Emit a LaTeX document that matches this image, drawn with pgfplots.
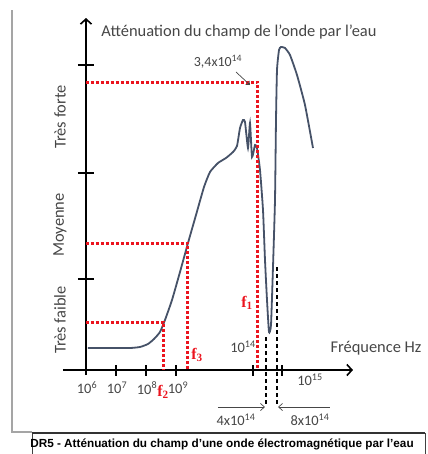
\documentclass[border=0pt]{standalone}
\usepackage{pgfplots}
\pgfplotsset{compat=1.18}
\usepackage{fontspec}
\setmainfont{Carlito}
\newfontfamily\capfont{Liberation Sans}
\newfontfamily\ffont{Liberation Serif}
\usetikzlibrary{arrows.meta}
\definecolor{curve}{RGB}{70,82,104}
\definecolor{myred}{RGB}{235,20,30}
\definecolor{txt}{RGB}{70,70,70}
\definecolor{framec}{RGB}{165,165,165}
\tikzset{lab/.style={txt, font=\fontsize{14.5}{14.5}\selectfont}}
\begin{document}
\begin{tikzpicture}
\path[use as bounding box] (-86bp,-84bp) rectangle (342bp,370bp);
\begin{axis}[x=1bp,y=1bp, anchor=origin, at={(0,0)},
  axis lines=middle, xmin=-23, xmax=267, ymin=-5, ymax=352, clip=false,
  xtick={0,30,60,90,167,196}, ytick={91,197,305},
  xticklabels={}, yticklabels={},
  tick align=center, major tick length=13bp,
  tick style={line width=1.6bp, black},
  every x tick/.append style={/pgfplots/major tick length=11bp},
  every y tick/.append style={/pgfplots/major tick length=16bp},
  axis line style={line width=1.6bp},
  every inner x axis line/.append style={-{Straight Barb[length=5bp,width=11bp,line width=1.6bp]}},
  every inner y axis line/.append style={-{Straight Barb[length=5bp,width=11bp,line width=1.6bp]}}]
% curve
\addplot[curve, line width=1.8bp, smooth, tension=0.3] coordinates {
(2,22) (24,22) (44,22) (54,23) (62,26) (68,31) (74,38) (79,50) (86,70) (94,98)
(102,127) (110,155) (118,183) (124,198) (132,207) (140,212) (147,218) (151,224)
(154,242) (157,250) (159,248) (162,222) (164,247) (166,213) (169,225) (171,222)
(174,200) (177,160) (179,110) (181,70) (183,38) (185,45) (187,103) (189,170)
(190,250) (191,300) (193,320) (195,323) (199,322) (204,315) (211,295) (219,265) (227,222)};
% red dotted guides
\addplot[myred, line width=3bp, dash pattern=on 3bp off 2bp] coordinates {(0,288) (172,288) (172,0)};
\addplot[myred, line width=3bp, dash pattern=on 3bp off 2bp] coordinates {(0,127) (102,127) (102,0)};
\addplot[myred, line width=3bp, dash pattern=on 3bp off 2bp] coordinates {(0,48) (78,48) (78,0)};
% black dashed
\addplot[black, line width=1.4bp, dash pattern=on 4bp off 3bp] coordinates {(180,33) (180,-37)};
\addplot[black, line width=1.4bp, dash pattern=on 4bp off 3bp] coordinates {(191,103) (191,-37)};
% small arrows
\addplot[txt, line width=0.7bp, -{Straight Barb[length=4bp,width=7bp]}] coordinates {(132,-37) (179,-37)};
\addplot[txt, line width=0.7bp, -{Straight Barb[length=4bp,width=7bp]}] coordinates {(244,-37) (192,-37)};
\addplot[txt, line width=0.7bp, -{Straight Barb[length=3bp,width=5bp]}] coordinates {(150,298) (164,285)};
% texts
\node[txt, font=\fontsize{16.5}{16.5}\selectfont] at (axis cs:153,338) {Atténuation du champ de l’onde par l’eau};
\node[txt, rotate=90, font=\fontsize{16.5}{16.5}\selectfont] at (axis cs:-26,253) {Très forte};
\node[txt, rotate=90, font=\fontsize{16.5}{16.5}\selectfont] at (axis cs:-26,145) {Moyenne};
\node[txt, rotate=90, font=\fontsize{16.5}{16.5}\selectfont] at (axis cs:-26,50) {Très faible};
\node[lab] at (axis cs:1,-18) {10\textsuperscript{6}};
\node[lab] at (axis cs:31,-18) {10\textsuperscript{7}};
\node[lab] at (axis cs:61,-18) {10\textsuperscript{8}};
\node[lab] at (axis cs:92,-18) {10\textsuperscript{9}};
\node[lab] at (axis cs:157,23) {10\textsuperscript{14}};
\node[lab] at (axis cs:224,-10) {10\textsuperscript{15}};
\node[lab] at (axis cs:150,-50) {4x10\textsuperscript{14}};
\node[lab] at (axis cs:224,-50) {8x10\textsuperscript{14}};
\node[txt, font=\fontsize{14}{14}\selectfont] at (axis cs:132,308) {3,4x10\textsuperscript{14}};
\node[txt, font=\fontsize{16.5}{16.5}\selectfont] at (axis cs:290,22) {Fréquence Hz};
\node[myred, font=\ffont\bfseries\fontsize{16}{16}\selectfont] at (axis cs:161,67) {f\textsubscript{1}};
\node[myred, font=\ffont\bfseries\fontsize{16}{16}\selectfont] at (axis cs:111,15) {f\textsubscript{3}};
\node[myred, font=\ffont\bfseries\fontsize{16}{16}\selectfont] at (axis cs:77,-22) {f\textsubscript{2}};
% frame and caption box
\draw[framec, line width=1.2bp] (axis cs:-74,360) -- (axis cs:-74,-62) -- (axis cs:-54,-62);
\draw[black!75, line width=0.8bp] (axis cs:-54,-90) -- (axis cs:-54,-63) -- (axis cs:339,-63) -- (axis cs:339,-90);
\draw[black!80, line width=1.8bp] (axis cs:-54,-63) -- (axis cs:339,-63);
\node[font=\capfont\bfseries\fontsize{11.8}{11.8}\selectfont] at (axis cs:136,-74) {DR5 - Atténuation du champ d’une onde électromagnétique par l’eau};
\end{axis}
\end{tikzpicture}
\end{document}
